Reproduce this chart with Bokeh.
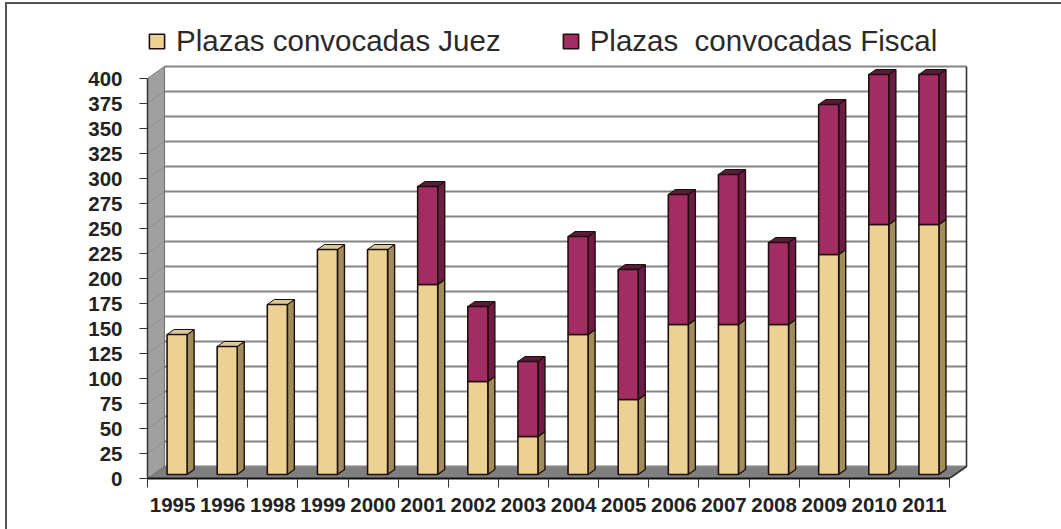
from bokeh.plotting import figure
from bokeh.models import FixedTicker, Legend, LegendItem, Range1d
from bokeh.embed import file_html
from bokeh.resources import INLINE

years = ["1995","1996","1998","1999","2000","2001","2002","2003","2004","2005","2006","2007","2008","2009","2010","2011"]
juez = [140,128,170,225,225,190,93,38,140,75,150,150,150,220,250,250]
fiscal = [0,0,0,0,0,98,75,75,98,130,130,150,82,150,150,150]
yticks = list(range(0,401,25))

FONT = "Liberation Sans"
PX = 50.125
DX, DY = 17/PX, 12      # wall depth
BX, BY = 0.09, 4        # bar base offset inside the floor
SX, SY = 7/PX, 5        # bar depth
BW = 0.4
n = len(years)

p = figure(width=1056, height=527, output_backend="svg", toolbar_location=None,
           x_range=Range1d(0, 916/PX), y_range=Range1d(0, 470),
           min_border_left=140, min_border_right=0, min_border_top=4, min_border_bottom=53,
           background_fill_color="#ffffff", border_fill_color="#ffffff",
           outline_line_color=None)
p.styles = {"position": "absolute", "left": "5px", "top": "2px",
            "border-top": "2px solid #555555", "border-left": "2px solid #555555"}
p.grid.visible = False

# walls and floor
p.patch([0, DX, DX, 0], [400, 400+DY, DY, 0], fill_color="#a0a0a0", line_color="#8a8a8a", line_width=1)
p.patch([0, DX, n+DX, n], [0, DY, DY, 0], fill_color="#7f7f7f", line_color="#555555", line_width=1)
p.segment([DX]*len(yticks), [v+DY for v in yticks], [n+DX]*len(yticks), [v+DY for v in yticks],
          line_color="#858585", line_width=1.8)
p.segment([0]*len(yticks), yticks, [DX]*len(yticks), [v+DY for v in yticks],
          line_color="#8c8c8c", line_width=0.8)
p.line([n, n+DX, n+DX], [0, DY, 400+DY], line_color="#333333", line_width=1.6)
p.line([DX, DX], [DY, 400+DY], line_color="#777777", line_width=1.2)

def bar(bottoms, tops, front, side, top):
    keep = [i for i in range(n) if tops[i] > bottoms[i]]
    xl = [i+0.5+BX-BW/2 for i in keep]
    xr = [i+0.5+BX+BW/2 for i in keep]
    b = [bottoms[i]+BY for i in keep]
    t = [tops[i]+BY for i in keep]
    edge = "#1e0f0a"
    p.patches([[r, r+SX, r+SX, r] for r in xr],
              [[bb, bb+SY, tt+SY, tt] for bb, tt in zip(b, t)],
              fill_color=side, line_color=edge, line_width=1.4)
    p.patches([[l, r, r+SX, l+SX] for l, r in zip(xl, xr)],
              [[tt, tt, tt+SY, tt+SY] for tt in t],
              fill_color=top, line_color=edge, line_width=1)
    return p.quad(left=xl, right=xr, bottom=b, top=t, fill_color=front,
                  line_color=edge, line_width=1.6)

totals = [a+b for a, b in zip(juez, fiscal)]
r1 = bar([0]*n, juez, "#ebd193", "#a18d5b", "#dcc999")
r2 = bar(juez, totals, "#a32c63", "#6e1c46", "#5a1a3c")

# axes
ax = p.xaxis[0]
ax.bounds = (0, n)
ax.ticker = FixedTicker(ticks=[i+0.5 for i in range(n)], minor_ticks=list(range(n+1)))
ax.major_label_overrides = {i+0.5: y for i, y in enumerate(years)}
ax.major_tick_out = 0; ax.major_tick_in = 0
ax.minor_tick_out = 9; ax.minor_tick_in = 0
ax.minor_tick_line_color = "#333333"
ax.axis_line_color = "#111111"; ax.axis_line_width = 2
ax.major_label_standoff = 10
ay = p.yaxis[0]
ay.bounds = (0, 400)
ay.ticker = FixedTicker(ticks=yticks)
ay.major_tick_out = 8; ay.major_tick_in = 0
ay.minor_tick_out = 0; ay.minor_tick_in = 0
ay.major_tick_line_color = "#333333"
ay.axis_line_color = "#333333"; ay.axis_line_width = 1.5
ay.major_label_standoff = 17
for a in (ax, ay):
    a.major_label_text_font = FONT
    a.major_label_text_font_style = "bold"
    a.major_label_text_font_size = "20.5px"
    a.major_label_text_color = "#222222"

leg = Legend(items=[LegendItem(label="Plazas convocadas Juez", renderers=[r1]),
                    LegendItem(label="Plazas  convocadas Fiscal", renderers=[r2])],
             orientation="horizontal", location=(0, 420),
             background_fill_alpha=0, border_line_alpha=0, padding=0, margin=0,
             glyph_width=19, glyph_height=18, label_standoff=10, spacing=60,
             label_text_font=FONT, label_text_font_size="29.5px", label_text_color="#2a2a2a")
p.add_layout(leg, "center")

open("out.html", "w").write(file_html(p, INLINE))
